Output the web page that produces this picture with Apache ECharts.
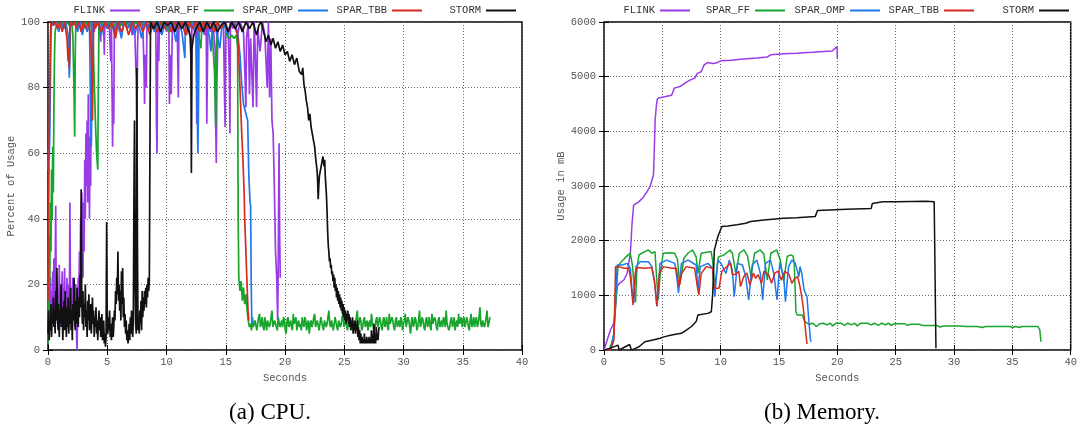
<!DOCTYPE html>
<html>
<head>
<meta charset="utf-8">
<script src="https://cdn.jsdelivr.net/npm/echarts@6/dist/echarts.min.js"></script>
<style>
  html, body { margin: 0; padding: 0; background: #ffffff; }
  #chart { width: 1080px; height: 430px; }
</style>
</head>
<body>
<div id="chart"></div>
<script>
// Runtimes compared in both panels
const runtimes = ['FLINK', 'SPAR_FF', 'SPAR_OMP', 'SPAR_TBB', 'STORM'];
const runtimeColors = ['#9a3ce6', '#17a52b', '#1e78f0', '#d52b1e', '#111111'];

// Axis ranges and tick steps
const secondsRange = [0, 40, 5];
const cpuRange = [0, 100, 20];
const memRange = [0, 6000, 1000];

// Panel (a): CPU usage in percent, [seconds, percent]
const cpuFlink = [
  [0,20],[0.05,8],[0.1,25],[0.15,12],[0.2,22],[0.25,6],[0.3,18],[0.35,10],[0.4,24],[0.45,14],
  [0.5,28],[0.55,9],[0.6,20],[0.65,44],[0.7,12],[0.75,22],[0.8,8],[0.85,18],[0.9,11],[0.95,26],
  [1.0,14],[1.05,20],[1.1,7],[1.15,16],[1.2,24],[1.25,10],[1.3,19],[1.35,13],[1.4,25],[1.45,9],
  [1.5,17],[1.55,12],[1.6,22],[1.65,8],[1.7,15],[1.75,20],[1.8,10],[1.85,45],[1.9,14],[1.95,19],
  [2.0,9],[2.05,16],[2.1,22],[2.15,11],[2.2,18],[2.25,7],[2.3,14],[2.35,20],[2.4,6],[2.45,0],
  [2.5,12],[2.55,22],[2.6,15],[2.65,30],[2.7,18],[2.75,40],[2.8,25],[2.85,48],[2.9,35],[2.95,22],
  [3.0,45],[3.05,30],[3.1,58],[3.15,40],[3.2,66],[3.25,50],[3.3,70],[3.35,45],[3.4,78],[3.45,60],
  [3.5,40],[3.55,65],[3.6,50],[3.65,82],[3.7,70],[3.75,95],[3.8,100],[3.9,97],[4.0,100],[4.15,99],
  [4.3,100],[4.45,94],[4.5,100],[4.7,98],[4.75,90],[4.8,100],[5.0,99],[5.15,100],[5.3,88],[5.35,100],
  [5.45,62],[5.5,80],[5.55,69],[5.6,100],[5.75,96],[5.85,100],[6.05,97],[6.1,100],[6.3,99],[6.5,100],
  [6.7,98],[6.9,100],[7.1,96],[7.3,100],[7.45,82],[7.5,66],[7.55,90],[7.6,100],[7.8,99],[8.0,100],
  [8.1,86],[8.15,75],[8.2,90],[8.3,80],[8.35,100],[8.6,98],[8.8,100],[9.0,97],[9.1,100],[9.15,70],
  [9.2,60],[9.25,88],[9.3,100],[9.35,88],[9.4,100],[9.6,98],[9.8,100],[10.0,97],[10.2,100],[10.25,75],
  [10.3,90],[10.4,78],[10.5,100],[10.7,98],[10.9,100],[11.0,77],[11.05,100],[11.3,98],[11.5,100],[11.7,96],
  [11.9,100],[12.05,90],[12.1,88],[12.15,100],[12.4,97],[12.5,100],[12.55,69],[12.6,100],[12.8,98],[13.0,100],
  [13.2,96],[13.35,100],[13.4,69],[13.45,85],[13.5,100],[13.7,97],[13.9,100],[14.1,92],[14.15,70],[14.2,57],
  [14.25,80],[14.3,89],[14.35,100],[14.6,98],[14.8,100],[14.9,77],[14.95,68],[15.0,100],[15.2,97],[15.3,85],
  [15.35,66],[15.4,100],[15.6,98],[15.8,100],[16.0,96],[16.2,100],[16.5,97],[16.6,86],[16.7,74],[16.75,95],
  [16.9,100],[17.0,78],[17.1,95],[17.3,74],[17.4,100],[17.5,90],[17.6,74],[17.7,98],[17.9,91],[18.1,100],
  [18.3,96],[18.5,80],[18.6,100],[18.7,77],[18.8,95],[18.9,70],[19.0,66],[19.1,50],[19.2,30],[19.3,22],
  [19.38,9],[19.42,22],[19.5,63],[19.55,35],[19.6,22]
];
const cpuSparFF = [
  [0,2],[0.03,25],[0.06,10],[0.1,35],[0.15,20],[0.2,45],[0.25,30],[0.3,55],[0.35,40],[0.4,62],
  [0.45,48],[0.5,75],[0.55,90],[0.6,97],[0.65,98],[0.8,100],[1.0,99],[1.2,100],[1.4,98],[1.6,100],
  [1.8,99],[2.0,100],[2.1,96],[2.2,78],[2.25,65],[2.3,90],[2.35,100],[2.6,99],[2.8,100],[3.0,98],
  [3.2,100],[3.4,99],[3.6,100],[3.8,95],[3.9,82],[4.0,70],[4.1,60],[4.2,55],[4.25,80],[4.3,100],
  [4.6,99],[5.0,100],[5.4,98],[5.8,100],[6.2,99],[6.6,100],[7.0,98],[7.4,100],[7.8,99],[8.2,100],
  [8.6,98],[9.0,100],[9.4,99],[9.8,100],[10.2,97],[10.6,100],[11.0,98],[11.4,100],[11.8,99],[12.2,100],
  [12.6,98],[12.9,92],[13.0,100],[13.4,99],[13.8,100],[14.05,85],[14.15,68],[14.2,90],[14.3,100],[14.6,98],
  [14.9,100],[15.1,96],[15.3,95],[15.5,96],[15.7,95],[15.9,96],[16.0,92],[16.05,40],[16.1,22],[16.2,18],
  [16.3,21],[16.4,15],[16.5,19],[16.6,14],[16.7,17],[16.8,12],[16.9,9],[17.0,7],
  [17.1,8],[17.175,6],[17.25,10],[17.325,7],[17.4,7],[17.475,9],[17.55,9],[17.625,6],[17.7,6],[17.775,10],
  [17.85,11],[17.925,7],[18.0,8],[18.075,10],[18.15,7],[18.225,6],[18.3,10],[18.375,8],[18.45,6],[18.525,9],
  [18.6,9],[18.675,7],[18.75,8],[18.825,10],[18.9,12],[18.975,7],[19.05,7],[19.125,9],[19.2,9],[19.275,7],
  [19.35,6],[19.425,10],[19.5,10],[19.575,7],[19.65,8],[19.725,9],[19.8,7],[19.875,10],[19.95,9],[20.025,6],
  [20.1,5],[20.175,9],[20.25,10],[20.325,7],[20.4,8],[20.475,9],[20.55,7],[20.625,6],[20.7,11],[20.775,8],
  [20.85,8],[20.925,10],[21.0,6],[21.075,8],[21.15,9],[21.225,7],[21.3,8],[21.375,6],[21.45,10],[21.525,8],
  [21.6,7],[21.675,10],[21.75,9],[21.825,6],[21.9,8],[21.975,9],[22.05,5],[22.125,8],[22.2,9],[22.275,7],
  [22.35,8],[22.425,10],[22.5,11],[22.575,7],[22.65,7],[22.725,9],[22.8,9],[22.875,6],[22.95,8],[23.025,10],
  [23.1,10],[23.175,7],[23.25,6],[23.325,9],[23.4,9],[23.475,7],[23.55,8],[23.625,10],[23.7,12],[23.775,8],
  [23.85,7],[23.925,9],[24.0,9],[24.075,6],[24.15,8],[24.225,10],[24.3,10],[24.375,7],[24.45,6],[24.525,9],
  [24.6,9],[24.675,7],[24.75,8],[24.825,10],[24.9,11],[24.975,7],[25.05,7],[25.125,9],[25.2,9],[25.275,6],
  [25.35,8],[25.425,10],[25.5,10],[25.575,7],[25.65,6],[25.725,9],[25.8,9],[25.875,7],[25.95,7],[26.025,10],
  [26.1,12],[26.175,7],[26.25,8],[26.325,10],[26.4,9],[26.475,6],[26.55,7],[26.625,9],[26.7,10],[26.775,7],
  [26.85,8],[26.925,9],[27.0,6],[27.075,8],[27.15,9],[27.225,7],[27.3,11],[27.375,8],[27.45,8],[27.525,6],
  [27.6,7],[27.675,9],[27.75,10],[27.825,7],[27.9,8],[27.975,10],[28.05,9],[28.125,7],[28.2,6],[28.275,9],
  [28.35,10],[28.425,7],[28.5,8],[28.575,10],[28.65,7],[28.725,6],[28.8,11],[28.875,8],[28.95,8],[29.025,10],
  [29.1,9],[29.175,7],[29.25,6],[29.325,9],[29.4,10],[29.475,7],[29.55,8],[29.625,9],[29.7,7],[29.775,10],
  [29.85,9],[29.925,6],[30.0,8],[30.075,9],[30.15,11],[30.225,7],[30.3,7],[30.375,10],[30.45,9],[30.525,7],
  [30.6,5],[30.675,9],[30.75,10],[30.825,7],[30.9,8],[30.975,10],[31.05,9],[31.125,6],[31.2,7],[31.275,9],
  [31.35,12],[31.425,7],[31.5,8],[31.575,10],[31.65,9],[31.725,7],[31.8,6],[31.875,9],[31.95,10],[32.025,7],
  [32.1,8],[32.175,10],[32.25,7],[32.325,6],[32.4,11],[32.475,8],[32.55,8],[32.625,10],[32.7,9],[32.775,7],
  [32.85,6],[32.925,9],[33.0,10],[33.075,7],[33.15,8],[33.225,9],[33.3,7],[33.375,10],[33.45,9],[33.525,7],
  [33.6,12],[33.675,8],[33.75,8],[33.825,6],[33.9,7],[33.975,9],[34.05,10],[34.125,7],[34.2,8],[34.275,10],
  [34.35,6],[34.425,8],[34.5,9],[34.575,7],[34.65,11],[34.725,8],[34.8,8],[34.875,10],[34.95,7],[35.025,9],
  [35.1,10],[35.175,7],[35.25,8],[35.325,10],[35.4,9],[35.475,7],[35.55,6],[35.625,9],[35.7,11],[35.775,7],
  [35.85,8],[35.925,10],[36.0,7],[36.075,9],[36.15,10],[36.225,7],[36.3,8],[36.375,10],[36.45,13],[36.525,8],
  [36.6,7],[36.675,9],[36.75,9],[36.825,7],[36.9,8],[36.975,10],[37.05,12],[37.125,7],[37.2,8],[37.3,10]
];
const cpuSparOMP = [
  [0,55],[0.05,62],[0.1,58],[0.15,66],[0.2,80],[0.25,95],[0.3,100],[0.5,99],[0.7,100],[0.9,97],
  [1.1,100],[1.3,98],[1.5,100],[1.7,96],[1.8,83],[1.85,90],[1.9,100],[2.1,99],[2.3,100],[2.5,97],
  [2.7,100],[2.9,96],[3.1,100],[3.3,97],[3.5,100],[3.6,70],[3.65,62],[3.7,75],[3.75,100],[4.0,99],
  [4.2,100],[4.5,96],[4.7,100],[5.0,98],[5.3,100],[5.6,97],[5.9,100],[6.2,95],[6.4,100],[6.7,98],
  [7.0,100],[7.3,96],[7.6,100],[7.9,95],[8.1,100],[8.4,98],[8.7,100],[9.0,97],[9.3,100],[9.6,96],
  [9.9,100],[10.2,98],[10.5,100],[10.8,94],[11.0,100],[11.3,97],[11.55,89],[11.6,100],[11.9,98],[12.2,100],
  [12.5,95],[12.65,60],[12.7,75],[12.75,100],[13.0,98],[13.3,100],[13.6,96],[13.75,91],[13.9,100],[14.2,97],
  [14.5,92],[14.7,100],[15.0,98],[15.2,96],[15.4,100],[15.7,99],[16.0,97],[16.2,90],[16.35,81],[16.5,75],
  [16.7,72],[16.85,70],[16.95,53],[17.05,45],[17.1,44],[17.15,20],[17.2,8],[17.25,9]
];
const cpuSparTBB = [
  [0,15],[0.05,40],[0.1,67],[0.15,80],[0.2,95],[0.25,100],[0.4,99],[0.6,100],[0.8,98],[1.0,100],
  [1.2,97],[1.4,100],[1.6,95],[1.7,88],[1.75,92],[1.8,86],[1.85,100],[2.0,99],[2.2,100],[2.4,98],
  [2.6,100],[2.8,97],[3.0,100],[3.2,98],[3.4,100],[3.6,96],[3.7,85],[3.75,70],[3.8,84],[3.85,100],
  [4.0,98],[4.2,100],[4.5,97],[4.8,100],[5.1,98],[5.4,100],[5.7,95],[5.9,100],[6.2,97],[6.5,100],
  [6.8,96],[7.1,100],[7.4,98],[7.7,100],[8.0,97],[8.3,100],[8.6,96],[8.9,100],[9.2,97],[9.5,100],
  [9.8,98],[10.1,100],[10.4,97],[10.7,100],[11.0,98],[11.3,100],[11.6,96],[11.9,100],[12.2,98],[12.5,100],
  [12.8,97],[13.1,100],[13.4,98],[13.7,100],[14.0,97],[14.3,100],[14.6,98],[14.9,100],[15.2,97],[15.5,100],
  [15.8,98],[16.0,96],[16.15,85],[16.25,75],[16.35,66],[16.45,58],[16.55,48],[16.6,40],[16.7,30],[16.8,20],
  [16.88,12],[16.95,9],[17.0,9]
];
const cpuStorm = [
  [0,5],[0.05,12],[0.1,3],[0.15,9],[0.2,6],[0.25,14],[0.3,4],[0.35,10],[0.4,8],[0.45,16],
  [0.5,7],[0.55,12],[0.6,5],[0.65,18],[0.7,9],[0.75,25],[0.8,11],[0.85,6],[0.9,14],[0.95,4],
  [1.0,12],[1.05,8],[1.1,20],[1.15,7],[1.2,13],[1.25,3],[1.3,10],[1.35,15],[1.4,6],[1.45,18],
  [1.5,9],[1.55,4],[1.6,13],[1.65,7],[1.7,16],[1.75,5],[1.8,11],[1.85,8],[1.9,19],[1.95,6],
  [2.0,12],[2.05,3],[2.1,14],[2.15,9],[2.2,22],[2.25,11],[2.3,6],[2.35,15],[2.4,8],[2.45,19],
  [2.5,12],[2.55,7],[2.6,16],[2.65,10],[2.7,23],[2.75,13],[2.8,49],[2.85,15],[2.9,8],[2.95,18],
  [3.0,6],[3.05,14],[3.1,10],[3.15,20],[3.2,7],[3.25,12],[3.3,4],[3.35,15],[3.4,9],[3.45,17],
  [3.5,6],[3.55,11],[3.6,14],[3.65,5],[3.7,9],[3.75,16],[3.8,8],[3.85,12],[3.9,4],[3.95,10],
  [4.0,7],[4.05,13],[4.1,5],[4.15,9],[4.2,3],[4.25,8],[4.3,12],[4.35,6],[4.4,10],[4.45,4],
  [4.5,7],[4.55,11],[4.6,3],[4.65,6],[4.7,9],[4.75,2],[4.8,5],[4.85,1],[4.9,4],[4.95,39],
  [5.0,8],[5.05,5],[5.1,10],[5.15,6],[5.2,12],[5.25,4],[5.3,8],[5.35,3],[5.4,6],[5.45,10],
  [5.5,4],[5.55,7],[5.6,12],[5.65,9],[5.7,18],[5.75,14],[5.8,22],[5.85,17],[5.9,30],[5.95,15],
  [6.0,20],[6.05,12],[6.1,18],[6.15,9],[6.2,24],[6.25,14],[6.3,25],[6.35,10],[6.4,16],[6.45,7],
  [6.5,11],[6.55,5],[6.6,9],[6.65,3],[6.7,6],[6.75,2],[6.8,4],[6.85,8],[6.9,3],[6.95,10],
  [7.0,5],[7.05,12],[7.1,6],[7.15,4],[7.2,9],[7.25,45],[7.3,70],[7.35,20],[7.4,8],[7.45,5],
  [7.5,86],[7.55,30],[7.6,6],[7.65,10],[7.7,5],[7.75,12],[7.8,8],[7.85,15],[7.9,6],[7.95,18],
  [8.0,10],[8.05,16],[8.1,12],[8.15,18],[8.2,14],[8.25,19],[8.3,13],[8.35,20],[8.4,16],[8.45,22],
  [8.5,18],[8.55,21],[8.6,60],[8.65,100],[8.9,98],[9.2,100],[9.5,97],[9.8,100],[10.1,99],[10.4,100],
  [10.7,97],[11.0,100],[11.3,98],[11.6,100],[11.9,97],[12.05,95],[12.1,54],[12.15,92],[12.3,96],[12.5,98],
  [12.8,100],[13.1,97],[13.4,100],[13.7,98],[14.0,100],[14.3,97],[14.6,99],[14.9,100],[15.2,97],[15.5,100],
  [15.8,98],[16.1,100],[16.4,97],[16.7,100],[17.0,98],[17.3,100],[17.6,96],[17.8,99],[18.0,100],[18.2,97],
  [18.4,94],[18.6,96],[18.8,93],[19.0,95],[19.2,92],[19.4,94],[19.6,91],[19.8,93],[20.0,90],[20.2,91],
  [20.4,88],[20.6,90],[20.8,87],[21.0,89],[21.2,85],[21.4,84],[21.5,86],[21.6,81],[21.7,79],[21.8,76],
  [21.9,74],[22.0,70],[22.1,72],[22.2,68],[22.3,66],[22.4,64],[22.5,62],[22.6,58],[22.7,55],[22.75,52],
  [22.8,46],[22.85,50],[22.9,53],[23.0,55],[23.1,57],[23.2,59],[23.3,56],[23.35,58],[23.4,53],[23.5,47],
  [23.55,42],[23.6,36],[23.65,32],[23.7,30],[23.75,27],[23.8,28],[23.85,25],[23.9,26],[23.95,23],[24.0,24],
  [24.05,21],[24.1,23],[24.15,19],[24.2,22],[24.25,18],[24.3,20],[24.35,16],[24.4,19],[24.45,15],[24.5,18],
  [24.55,14],[24.6,17],[24.65,13],[24.7,16],[24.75,12],[24.8,15],[24.85,11],[24.9,14],[24.95,10],[25.0,13],
  [25.05,9],[25.1,12],[25.15,8],[25.2,11],[25.25,9],[25.3,12],[25.35,8],[25.4,11],[25.45,7],[25.5,10],
  [25.55,6],[25.6,9],[25.65,7],[25.7,10],[25.75,5],[25.8,8],[25.85,6],[25.9,9],[25.95,5],[26.0,8],
  [26.05,6],[26.1,9],[26.15,4],[26.2,7],[26.25,3],[26.3,6],[26.35,2],[26.4,5],[26.45,2],[26.5,4],
  [26.55,2],[26.6,3],[26.65,2],[26.7,5],[26.75,2],[26.8,3],[26.85,2],[26.9,4],[26.95,2],[27.0,3],
  [27.05,2],[27.1,4],[27.15,2],[27.2,3],[27.25,2],[27.3,6],[27.35,2],[27.4,3],[27.45,2],[27.5,8],
  [27.55,2],[27.6,3],[27.65,2],[27.7,7],[27.75,3],[27.8,5],[27.85,3],[27.9,6],[27.95,7]
];

// Panel (b): memory usage in MB, [seconds, MB]
const memFlink = [
  [0,0],[0.3,200],[0.56,370],[0.85,490],[1.0,800],[1.13,1160],[1.33,1220],[1.7,1280],[1.98,1400],[2.26,1770],
  [2.4,2300],[2.54,2650],[2.97,2710],[3.39,2800],[3.7,2900],[3.95,2990],[4.24,3200],[4.33,3800],[4.38,4200],[4.5,4500],
  [4.58,4600],[5.08,4630],[5.6,4650],[5.8,4660],[6.02,4790],[6.5,4820],[7.06,4900],[7.5,4950],[7.77,4970],[8.0,5060],
  [8.33,5090],[8.56,5210],[8.9,5260],[9.3,5240],[9.6,5250],[10.03,5290],[10.9,5300],[11.7,5320],[13.1,5340],[13.98,5360],
  [14.3,5400],[15.4,5420],[16.5,5430],[17.84,5445],[19.55,5470],[19.97,5550],[20.0,5335]
];
const memSparFF = [
  [0,0],[0.42,0],[0.7,150],[0.85,305],[1.04,980],[1.2,1530],[1.5,1620],[1.7,1660],[2.06,1740],[2.25,1770],
  [2.45,1530],[2.6,1100],[2.7,870],[2.82,1500],[3.0,1740],[3.24,1770],[3.5,1800],[3.8,1830],[4.1,1770],[4.37,1800],
  [4.5,1350],[4.65,920],[4.8,1350],[5.07,1770],[5.63,1780],[6.06,1770],[6.3,1650],[6.5,1200],[6.62,1350],[6.85,1680],
  [7.2,1770],[7.6,1830],[7.9,1700],[8.05,1400],[8.33,1770],[9.18,1800],[9.3,1650],[9.5,1160],[9.8,1700],[10.3,1740],
  [10.8,1830],[11.0,1770],[11.3,1400],[11.6,1770],[12.0,1830],[12.3,1720],[12.6,1340],[12.9,1770],[13.4,1830],[13.7,1750],
  [14.0,1280],[14.3,1770],[14.8,1830],[15.1,1650],[15.4,1250],[15.7,1710],[16.0,1740],[16.2,1720],[16.3,1600],[16.45,700],
  [16.55,640],[17.0,640],[17.2,520],[17.3,490],[17.6,470],[17.9,490],[18.2,430],[18.5,480],[18.8,490],[19.1,460],
  [19.4,490],[19.6,440],[19.9,490],[20.3,490],[20.6,450],[20.9,490],[21.2,460],[21.5,490],[21.7,440],[22.0,490],
  [22.6,490],[22.9,460],[23.2,490],[23.5,450],[23.8,490],[24.1,460],[24.4,490],[24.6,450],[24.9,480],[25.8,480],
  [26.0,450],[26.3,470],[27.0,470],[27.3,450],[28.5,450],[28.8,420],[29.1,440],[29.5,440],[30.5,440],[31.0,430],
  [32.0,430],[32.4,410],[32.7,430],[33.5,430],[34.8,430],[35.0,410],[35.3,430],[35.6,410],[35.8,430],[37.2,430],
  [37.35,370],[37.45,150]
];
const memSparOMP = [
  [0,0],[0.42,0],[0.6,50],[0.85,300],[0.99,975],[1.13,1555],[1.55,1555],[1.98,1585],[2.26,1495],[2.4,1100],
  [2.54,855],[2.74,1525],[3.1,1615],[3.8,1615],[4.1,1525],[4.38,1160],[4.55,795],[4.8,1585],[5.37,1645],[6.07,1585],
  [6.27,1280],[6.38,1040],[6.64,1585],[7.2,1645],[7.9,1555],[8.05,1100],[8.25,1525],[8.9,1585],[9.32,1495],[9.5,975],
  [9.75,1645],[10.03,1585],[10.45,1400],[10.74,1645],[11.0,1460],[11.16,975],[11.44,1585],[11.87,1555],[12.15,1340],[12.4,915],
  [12.7,1555],[13.1,1645],[13.4,1400],[13.6,915],[13.84,1585],[14.27,1645],[14.55,1400],[14.83,915],[15.06,1585],[15.4,1340],
  [15.55,885],[15.82,1525],[16.1,1645],[16.4,1585],[16.7,1340],[16.8,1525],[16.95,1400],[17.15,1100],[17.4,975],[17.55,550],
  [17.7,180],[17.76,150]
];
const memSparTBB = [
  [0,0],[0.56,0],[0.85,180],[0.99,1525],[1.27,1525],[1.7,1495],[2.12,1495],[2.26,1340],[2.49,820],[2.68,1400],
  [2.83,1510],[3.53,1495],[4.1,1510],[4.32,1280],[4.52,805],[4.75,1400],[5.08,1525],[5.79,1495],[6.2,1495],[6.44,1160],
  [6.64,1400],[7.06,1525],[7.77,1495],[8.0,1160],[8.13,1005],[8.33,1400],[8.76,1525],[9.32,1495],[9.44,1130],[9.86,1130],
  [10.1,1440],[10.56,1530],[10.85,1590],[11.0,1380],[11.27,1380],[11.55,1440],[11.7,1160],[11.97,1340],[12.25,1410],[12.5,1190],
  [12.8,1410],[13.0,1310],[13.2,1380],[13.5,1220],[13.7,1440],[14.1,1380],[14.36,1220],[14.65,1410],[14.93,1440],[15.2,1280],
  [15.5,1440],[15.86,1380],[16.1,1220],[16.34,1310],[16.6,1340],[16.8,1160],[17.0,900],[17.1,730],[17.3,305],[17.4,110]
];
const memStorm = [
  [0,0],[0.5,30],[1.2,90],[1.3,0],[2.2,100],[2.35,0],[2.6,20],[3.0,60],[3.5,150],[4.1,180],
  [4.8,215],[5.2,245],[5.8,275],[6.63,305],[7.06,365],[7.5,430],[7.9,520],[8.05,640],[8.9,670],[9.2,700],
  [9.32,1040],[9.46,1830],[9.75,2070],[10.1,2260],[10.6,2270],[11.4,2290],[12.15,2320],[12.57,2350],[13.7,2380],[15.4,2410],
  [16.5,2420],[18.1,2440],[18.3,2550],[20.8,2575],[22.9,2590],[23.0,2680],[23.9,2710],[25.05,2710],[27.6,2720],[28.3,2710],
  [28.45,30]
];

const cpuData = [cpuFlink, cpuSparFF, cpuSparOMP, cpuSparTBB, cpuStorm];
const memData = [memFlink, memSparFF, memSparOMP, memSparTBB, memStorm];

// Legend sample right edges for each panel (gnuplot-style key: text then line sample)
const keyRightEdges = [[140, 234, 328, 422, 516], [690, 785, 880, 974, 1069]];

const W = 1080;
const monoFont = '"Liberation Mono", "DejaVu Sans Mono", monospace';
const tickColor = '#555555';

const grids = [
  { left: 48, right: W - 522, top: 22, bottom: 80 },
  { left: 604, right: W - 1074, top: 22, bottom: 80 }
];

const plainNumber = v => String(v);

function mainXAxis(gridIndex) {
  return {
    type: 'value', gridIndex, min: secondsRange[0], max: secondsRange[1], interval: secondsRange[2],
    name: 'Seconds', nameLocation: 'middle', nameGap: 21,
    nameTextStyle: { fontFamily: monoFont, fontSize: 10.5, color: tickColor },
    axisLine: { show: false },
    axisTick: { show: true, inside: true, length: 5, lineStyle: { color: '#000', width: 1 } },
    axisLabel: { fontFamily: monoFont, fontSize: 10.5, color: tickColor, margin: 7, formatter: plainNumber },
    splitLine: { show: true, lineStyle: { color: '#666', width: 1, type: [1, 2] } }
  };
}
function mirrorXAxis(gridIndex) {
  return {
    type: 'value', gridIndex, position: 'top', min: secondsRange[0], max: secondsRange[1], interval: secondsRange[2],
    axisLine: { show: false }, axisLabel: { show: false }, splitLine: { show: false },
    axisTick: { show: true, inside: true, length: 5, lineStyle: { color: '#000', width: 1 } }
  };
}
function mainYAxis(gridIndex, range, name, nameGap) {
  return {
    type: 'value', gridIndex, min: range[0], max: range[1], interval: range[2],
    name, nameLocation: 'middle', nameGap,
    nameTextStyle: { fontFamily: monoFont, fontSize: 10.5, color: tickColor },
    axisLine: { show: false },
    axisTick: { show: true, inside: true, length: 5, lineStyle: { color: '#000', width: 1 } },
    axisLabel: { fontFamily: monoFont, fontSize: 10.5, color: tickColor, margin: 8, formatter: plainNumber },
    splitLine: { show: true, lineStyle: { color: '#666', width: 1, type: [1, 2] } }
  };
}
function mirrorYAxis(gridIndex, range) {
  return {
    type: 'value', gridIndex, position: 'right', min: range[0], max: range[1], interval: range[2],
    axisLine: { show: false }, axisLabel: { show: false }, splitLine: { show: false },
    axisTick: { show: true, inside: true, length: 5, lineStyle: { color: '#000', width: 1 } }
  };
}

const xAxes = [mainXAxis(0), mirrorXAxis(0), mainXAxis(1), mirrorXAxis(1)];
const yAxes = [
  mainYAxis(0, cpuRange, 'Percent of Usage', 29), mirrorYAxis(0, cpuRange),
  mainYAxis(1, memRange, 'Usage in mB', 37), mirrorYAxis(1, memRange)
];

// CPU traces are drawn a little heavier than the memory traces
const panelLineWidths = [1.7, 1.5];

const series = [];
[cpuData, memData].forEach((panel, p) => {
  panel.forEach((data, i) => {
    series.push({
      name: runtimes[i], type: 'line', data,
      xAxisIndex: p * 2, yAxisIndex: p * 2,
      showSymbol: false, symbol: 'none', animation: false,
      color: runtimeColors[i],
      lineStyle: { width: panelLineWidths[p], color: runtimeColors[i] },
      z: 2 + i
    });
  });
});

const legends = [];
keyRightEdges.forEach(edges => {
  edges.forEach((edge, i) => {
    legends.push({
      data: [runtimes[i]], right: W - edge, top: 5, padding: 0,
      align: 'right', icon: 'rect', itemWidth: 30, itemHeight: 2,
      selectedMode: false,
      textStyle: { fontFamily: monoFont, fontSize: 10.5, color: '#333' }
    });
  });
});

const chart = echarts.init(document.getElementById('chart'), null, { renderer: 'canvas' });
chart.setOption({
  animation: false,
  backgroundColor: '#ffffff',
  grid: grids.map(g => Object.assign({ show: true, borderColor: '#000', borderWidth: 1.5, backgroundColor: 'transparent' }, g)),
  xAxis: xAxes,
  yAxis: yAxes,
  legend: legends,
  series,
  graphic: [
    { type: 'text', x: 270, y: 413, style: { text: '(a) CPU.', font: '23px "Liberation Serif", serif', fill: '#000', textAlign: 'center', textVerticalAlign: 'middle' } },
    { type: 'text', x: 822, y: 413, style: { text: '(b) Memory.', font: '23px "Liberation Serif", serif', fill: '#000', textAlign: 'center', textVerticalAlign: 'middle' } }
  ]
});
</script>
</body>
</html>
